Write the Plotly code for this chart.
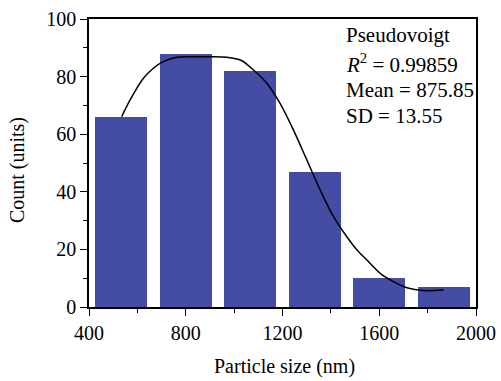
import plotly.graph_objects as go

# Histogram bars
bar_centers = [533, 800, 1067, 1333, 1600, 1867]
bar_counts = [66, 88, 82, 47, 10, 7]
bar_width = 215

# Pseudo-Voigt fit curve
fit_x = [535, 570, 625, 666, 707, 763, 832, 901, 970, 1030, 1080, 1135, 1190, 1245,
         1301, 1356, 1411, 1466, 1508, 1549, 1604, 1659, 1714, 1783, 1866]
fit_y = [66.1, 71.9, 79.4, 82.9, 85.2, 86.7, 86.9, 86.9, 86.7, 85.6, 82.3, 77.7, 70.7, 61.5,
         51.0, 40.6, 31.4, 24.4, 19.8, 16.3, 11.7, 8.8, 6.7, 5.7, 5.9]

x_ticks = [400, 800, 1200, 1600, 2000]
y_ticks = [0, 20, 40, 60, 80, 100]

info_lines = ["Pseudovoigt", "<i>R</i><sup>2</sup> = 0.99859", "Mean = 875.85", "SD = 13.55"]

FONT = "Liberation Serif"

fig = go.Figure()
fig.add_trace(go.Bar(x=bar_centers, y=bar_counts, width=bar_width,
                     marker=dict(color="#444ca3", line=dict(width=0)), showlegend=False))
fig.add_trace(go.Scatter(x=fit_x, y=fit_y, mode="lines",
                         line=dict(color="black", width=1.5, shape="spline", smoothing=0.8),
                         showlegend=False))

ypos = [0.943, 0.846, 0.752, 0.664]
for t, yp in zip(info_lines, ypos):
    fig.add_annotation(text=t, x=0.659, y=yp, xref="paper", yref="paper",
                       xanchor="left", yanchor="middle", showarrow=False,
                       font=dict(family=FONT, size=21, color="black"))

# axis titles as annotations
fig.add_annotation(text="Count (units)", x=-0.183, y=0.476, xref="paper", yref="paper",
                   xanchor="center", yanchor="middle", textangle=-90, showarrow=False,
                   font=dict(family=FONT, size=20, color="black"))
fig.add_annotation(text="Particle size (nm)", x=0.506, y=-0.205, xref="paper", yref="paper",
                   xanchor="center", yanchor="middle", showarrow=False,
                   font=dict(family=FONT, size=20, color="black"))

axis_common = dict(showline=True, linecolor="black", linewidth=1.5, mirror=True,
                   ticks="outside", ticklen=7, tickwidth=1.2, tickcolor="black",
                   showgrid=False, zeroline=False, automargin=False,
                   tickfont=dict(family=FONT, size=20, color="black"))

fig.update_xaxes(range=[400, 2000], tickvals=x_ticks,
                 minor=dict(dtick=200, ticks="outside", ticklen=4, tickcolor="black", tickwidth=1.2),
                 **axis_common)
fig.update_yaxes(range=[0, 100], tickvals=y_ticks,
                 minor=dict(dtick=10, ticks="outside", ticklen=4, tickcolor="black", tickwidth=1.2),
                 **axis_common)

fig.update_layout(width=501, height=381, margin=dict(l=89, r=25, t=19, b=74, autoexpand=False),
                  plot_bgcolor="white", paper_bgcolor="white", bargap=0)

fig.write_html("out.html")
